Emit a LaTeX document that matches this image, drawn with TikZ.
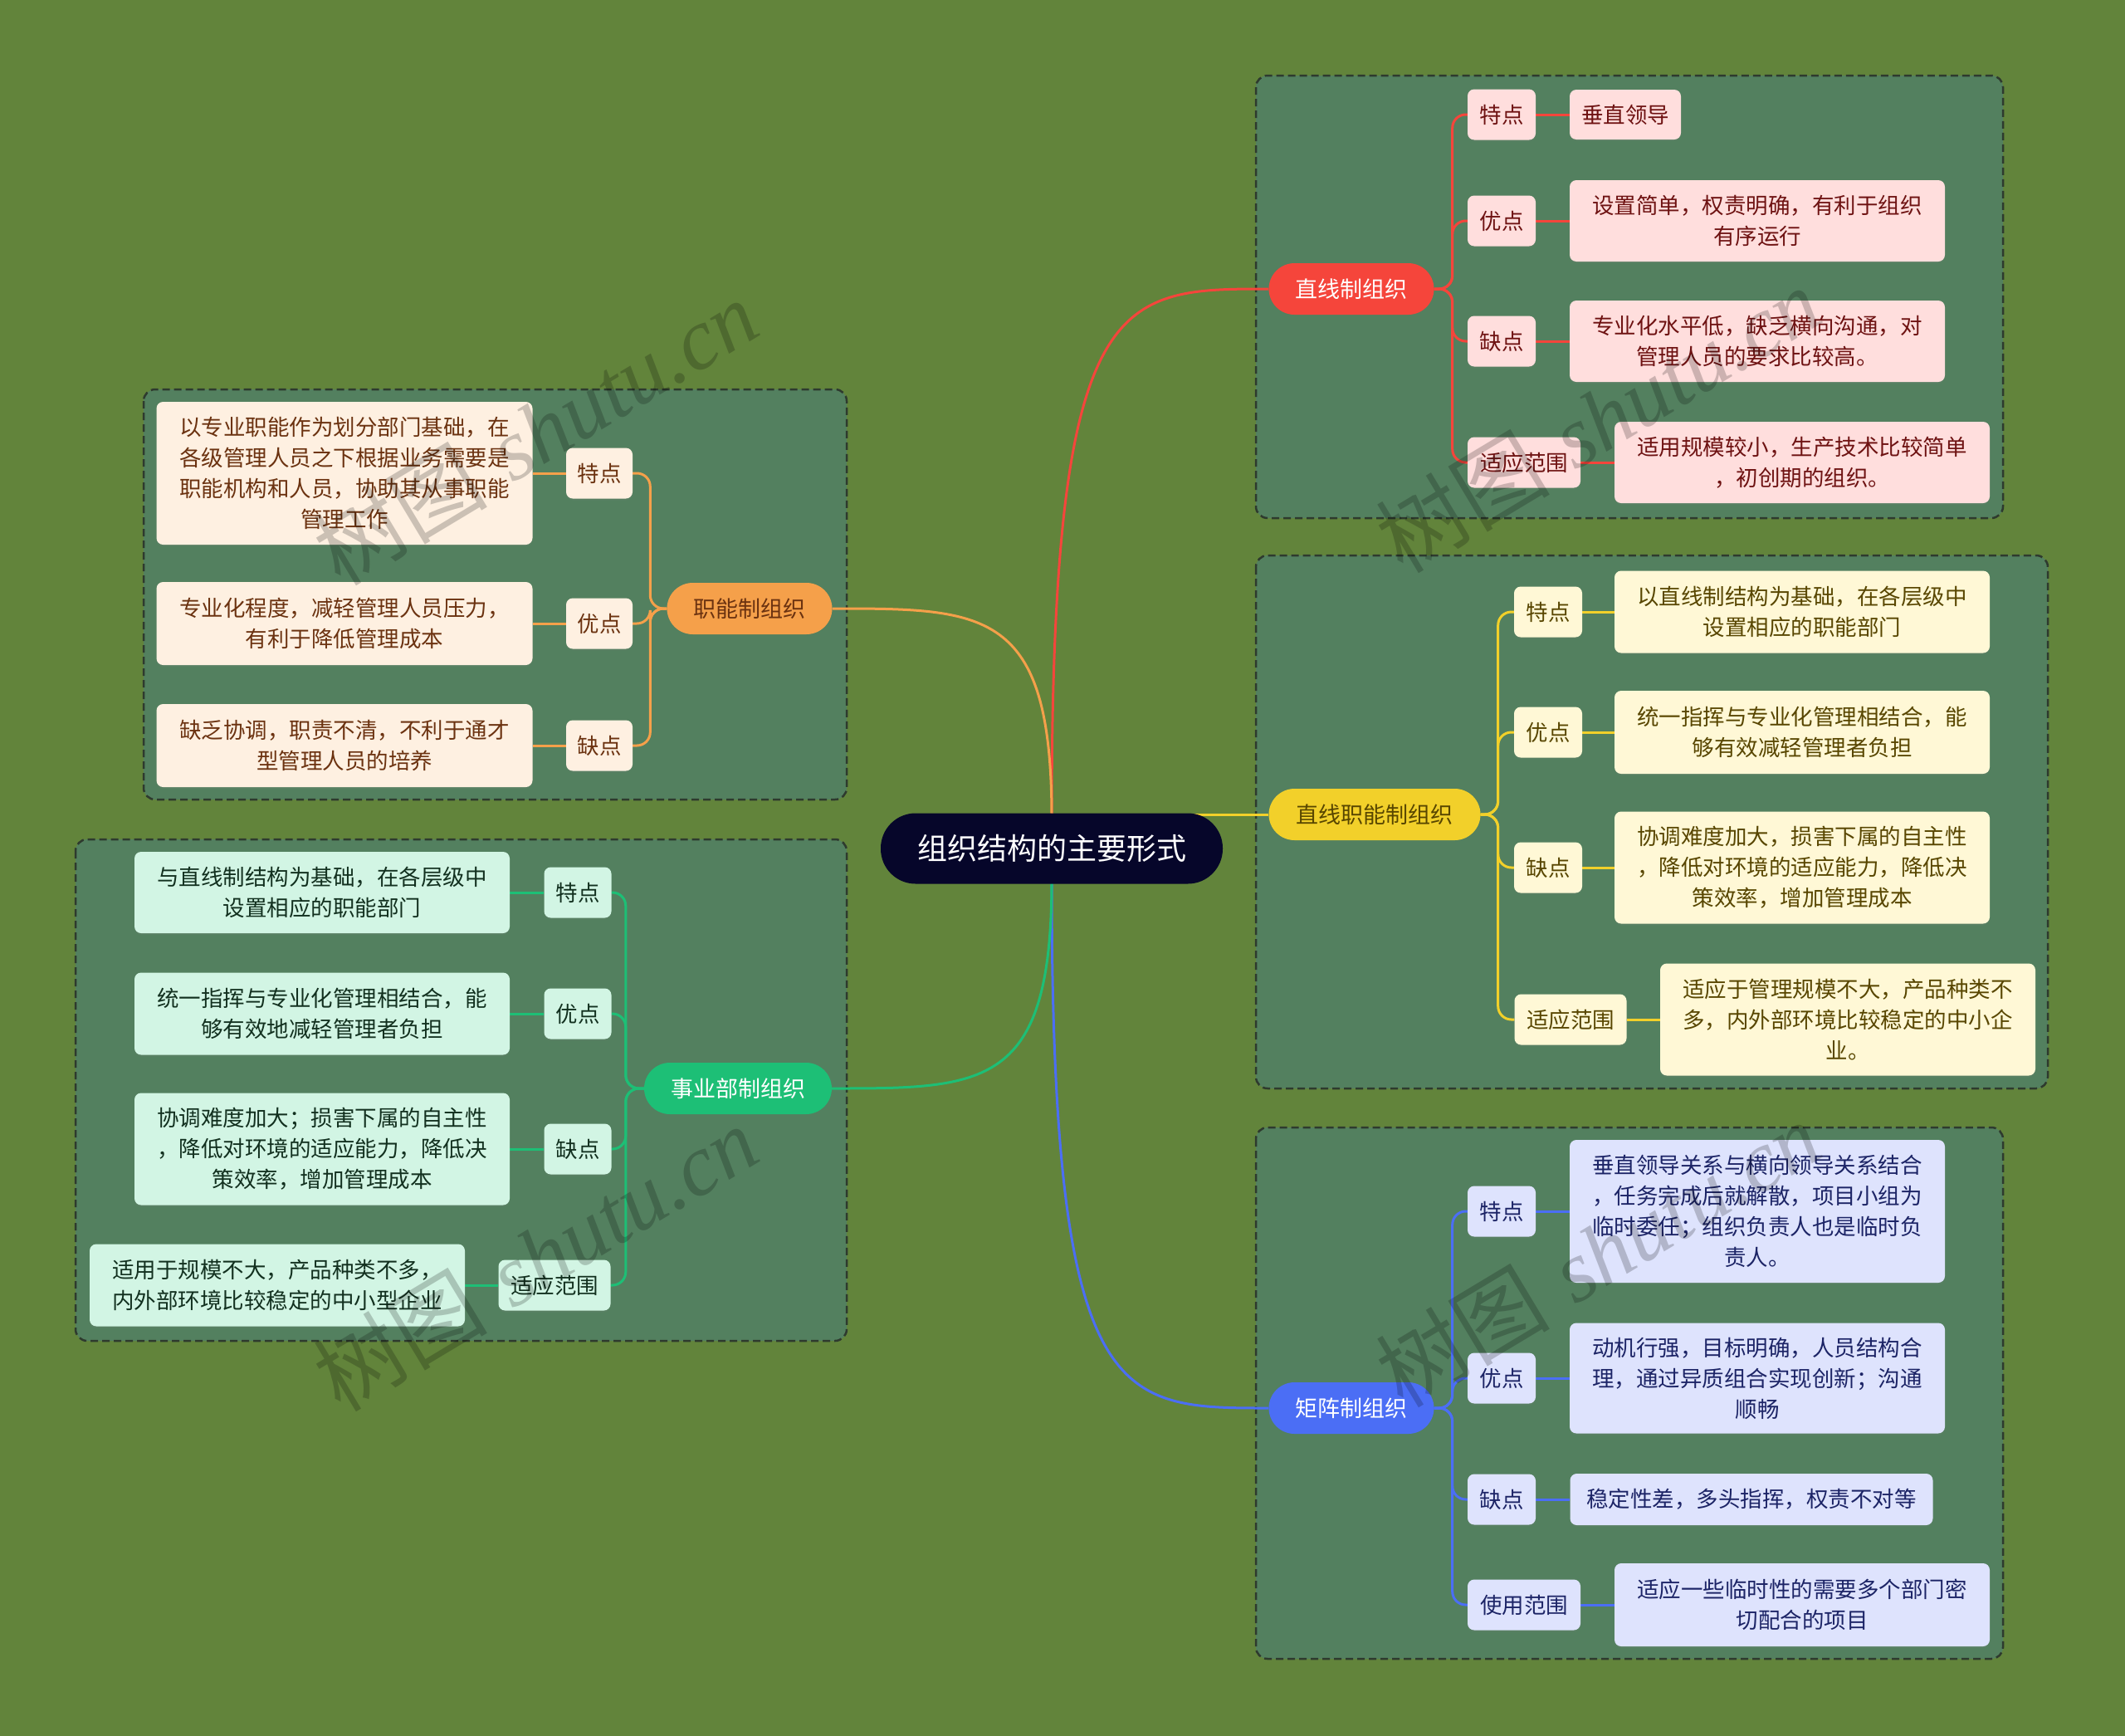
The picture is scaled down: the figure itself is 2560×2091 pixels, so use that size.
\documentclass[tikz,border=0pt]{standalone}
\usepackage{fontspec}
\newfontfamily\cjk{Noto Sans CJK SC}
\newfontfamily\wmser{Liberation Serif}
\usetikzlibrary{shadows}
\pgfdeclarelayer{back}
\pgfdeclarelayer{mid}
\pgfsetlayers{back,mid,main}
\definecolor{bgc}{HTML}{62843B}
\definecolor{grpc}{HTML}{53805F}
\definecolor{grpline}{HTML}{2E3A2E}
\definecolor{rootc}{HTML}{06062A}
\definecolor{cR}{HTML}{F5453B}
\definecolor{fR}{HTML}{FFDEDD}
\definecolor{tR}{HTML}{6E1212}
\definecolor{cY}{HTML}{F2D02A}
\definecolor{fY}{HTML}{FFF8D6}
\definecolor{tY}{HTML}{584600}
\definecolor{cB}{HTML}{4B6EF5}
\definecolor{fB}{HTML}{DEE3FD}
\definecolor{tB}{HTML}{1C2466}
\definecolor{cO}{HTML}{F5A04A}
\definecolor{fO}{HTML}{FEF0E1}
\definecolor{tO}{HTML}{6B3210}
\definecolor{cG}{HTML}{1DBF76}
\definecolor{fG}{HTML}{D2F5E4}
\definecolor{tG}{HTML}{12301F}
\begin{document}
\begin{tikzpicture}[x=1pt,y=-1pt,
  rootbox/.style={fill=rootc,text=white,rounded corners=42pt,minimum width=412pt,minimum height=85pt,inner sep=0pt,font=\cjk\fontsize{36}{40}\selectfont},
  mainbox/.style={rounded corners=31pt,minimum height=62pt,inner sep=0pt,font=\cjk\fontsize{27}{32}\selectfont},
  labbox/.style={rounded corners=8pt,minimum height=61pt,minimum width=82pt,inner sep=0pt,font=\cjk\fontsize{26.5}{37}\selectfont,drop shadow={opacity=0.15,shadow xshift=0pt,shadow yshift=-2pt}},
  leafbox/.style={rounded corners=8pt,minimum width=452pt,inner sep=0pt,align=center,font=\cjk\fontsize{26.5}{37}\selectfont,drop shadow={opacity=0.15,shadow xshift=0pt,shadow yshift=-2pt}},
  grpbox/.style={draw=grpline,fill=grpc,line width=2.5pt,dash pattern=on 9pt off 5pt,rounded corners=14pt},
  lnk/.style={line width=3pt},
  brl/.style={lnk,rounded corners=16pt},
  rr/.style={fill=fR,text=tR},
  yy/.style={fill=fY,text=tY},
  bb/.style={fill=fB,text=tB},
  oo/.style={fill=fO,text=tO},
  gg/.style={fill=fG,text=tG},
  wmark/.style={text=black,opacity=0.2,rotate=31,font=\fontsize{105}{110}\selectfont}
]
\begin{pgfonlayer}{back}
\fill[bgc] (0,0) rectangle (2560,2091);
\draw[grpbox] (1513,91) rectangle (2413,624);
\draw[grpbox] (1513,669) rectangle (2467,1311);
\draw[grpbox] (1513,1358) rectangle (2413,1998);
\draw[grpbox] (173,469) rectangle (1020,963);
\draw[grpbox] (91,1011) rectangle (1020,1615);
\end{pgfonlayer}

% root and main branches
\node[rootbox] (root) at (1267,1022) {组织结构的主要形式};
\node[mainbox,fill=cR,text=white,minimum width=199pt] (R) at (1628,348) {直线制组织};
\node[mainbox,fill=cY,text=tY,minimum width=255pt] (Y) at (1656,981) {直线职能制组织};
\node[mainbox,fill=cB,text=white,minimum width=199pt] (B) at (1628,1696) {矩阵制组织};
\node[mainbox,fill=cO,text=tO,minimum width=199pt] (O) at (903,733) {职能制组织};
\node[mainbox,fill=cG,text=white,minimum width=226pt] (G) at (889,1311) {事业部制组织};
\coordinate (rtop) at (1267,985);
\coordinate (rbot) at (1267,1060);

% red branch
\node[labbox,rr] (R1) at (1809,138) {特点};
\node[leafbox,rr,minimum width=134pt,minimum height=60pt] (R1x) at (1958,138) {垂直领导};
\node[labbox,rr] (R2) at (1809,266) {优点};
\node[leafbox,rr,minimum height=98pt] (R2x) at (2117,266) {设置简单，权责明确，有利于组织\\有序运行};
\node[labbox,rr] (R3) at (1809,411) {缺点};
\node[leafbox,rr,minimum height=98pt] (R3x) at (2117,411) {专业化水平低，缺乏横向沟通，对\\管理人员的要求比较高。};
\node[labbox,rr,minimum width=136pt] (R4) at (1836,557) {适应范围};
\node[leafbox,rr,minimum height=98pt] (R4x) at (2171,557) {适用规模较小，生产技术比较简单\\，初创期的组织。};

% yellow branch
\node[labbox,yy] (Y1) at (1865,737) {特点};
\node[leafbox,yy,minimum height=99pt] (Y1x) at (2171,737) {以直线制结构为基础，在各层级中\\设置相应的职能部门};
\node[labbox,yy] (Y2) at (1865,882) {优点};
\node[leafbox,yy,minimum height=100pt] (Y2x) at (2171,882) {统一指挥与专业化管理相结合，能\\够有效减轻管理者负担};
\node[labbox,yy] (Y3) at (1865,1045) {缺点};
\node[leafbox,yy,minimum height=135pt] (Y3x) at (2171,1045) {协调难度加大，损害下属的自主性\\，降低对环境的适应能力，降低决\\策效率，增加管理成本};
\node[labbox,yy,minimum width=135pt] (Y4) at (1892,1228) {适应范围};
\node[leafbox,yy,minimum height=135pt] (Y4x) at (2226,1228) {适应于管理规模不大，产品种类不\\多，内外部环境比较稳定的中小企\\业。};

% blue branch
\node[labbox,bb] (B1) at (1809,1459) {特点};
\node[leafbox,bb,minimum height=172pt] (B1x) at (2117,1459) {垂直领导关系与横向领导关系结合\\，任务完成后就解散，项目小组为\\临时委任；组织负责人也是临时负\\责人。};
\node[labbox,bb] (B2) at (1809,1660) {优点};
\node[leafbox,bb,minimum height=133pt] (B2x) at (2117,1660) {动机行强，目标明确，人员结构合\\理，通过异质组合实现创新；沟通\\顺畅};
\node[labbox,bb] (B3) at (1809,1806) {缺点};
\node[leafbox,bb,minimum width=437pt,minimum height=62pt] (B3x) at (2110,1806) {稳定性差，多头指挥，权责不对等};
\node[labbox,bb,minimum width=136pt] (B4) at (1836,1933) {使用范围};
\node[leafbox,bb,minimum height=100pt] (B4x) at (2171,1933) {适应一些临时性的需要多个部门密\\切配合的项目};

% orange branch
\node[labbox,oo,minimum width=80pt] (O1) at (722,570) {特点};
\node[leafbox,oo,minimum width=453pt,minimum height=172pt] (O1x) at (415,570) {以专业职能作为划分部门基础，在\\各级管理人员之下根据业务需要是\\职能机构和人员，协助其从事职能\\管理工作};
\node[labbox,oo,minimum width=80pt] (O2) at (722,751) {优点};
\node[leafbox,oo,minimum width=453pt,minimum height=100pt] (O2x) at (415,751) {专业化程度，减轻管理人员压力，\\有利于降低管理成本};
\node[labbox,oo,minimum width=80pt] (O3) at (722,898) {缺点};
\node[leafbox,oo,minimum width=453pt,minimum height=100pt] (O3x) at (415,898) {缺乏协调，职责不清，不利于通才\\型管理人员的培养};

% green branch
\node[labbox,gg,minimum width=81pt] (G1) at (696,1075) {特点};
\node[leafbox,gg,minimum height=98pt] (G1x) at (388,1075) {与直线制结构为基础，在各层级中\\设置相应的职能部门};
\node[labbox,gg,minimum width=81pt] (G2) at (696,1221) {优点};
\node[leafbox,gg,minimum height=99pt] (G2x) at (388,1221) {统一指挥与专业化管理相结合，能\\够有效地减轻管理者负担};
\node[labbox,gg,minimum width=81pt] (G3) at (696,1384) {缺点};
\node[leafbox,gg,minimum height=135pt] (G3x) at (388,1384) {协调难度加大；损害下属的自主性\\，降低对环境的适应能力，降低决\\策效率，增加管理成本};
\node[labbox,gg,minimum width=135pt] (G4) at (668,1548) {适应范围};
\node[leafbox,gg,minimum height=99pt] (G4x) at (334,1548) {适用于规模不大，产品种类不多，\\内外部环境比较稳定的中小型企业};

\begin{pgfonlayer}{mid}
% root to main
\draw[lnk,cR] (rtop) .. controls (1267,348) and (1345,348) .. (R.west);
\draw[lnk,cO] (rtop) .. controls (1267,733) and (1187,733) .. (O.east);
\draw[lnk,cY] (1267,981) -- (Y.west);
\draw[lnk,cB] (rbot) .. controls (1267,1696) and (1345,1696) .. (B.west);
\draw[lnk,cG] (rbot) .. controls (1267,1311) and (1187,1311) .. (G.east);
% red
\foreach \n in {R1,R2,R3,R4} {\draw[brl,cR] (R.east) -- ++(22,0) |- (\n.west);}
\foreach \n in {R1,R2,R3,R4} {\draw[lnk,cR] (\n.east) -- (\n.east -| \n x.west);}
% yellow
\foreach \n in {Y1,Y2,Y3,Y4} {\draw[brl,cY] (Y.east) -- ++(21,0) |- (\n.west);}
\foreach \n in {Y1,Y2,Y3,Y4} {\draw[lnk,cY] (\n.east) -- (\n.east -| \n x.west);}
% blue
\foreach \n in {B1,B2,B3,B4} {\draw[brl,cB] (B.east) -- ++(22,0) |- (\n.west);}
\foreach \n in {B1,B2,B3,B4} {\draw[lnk,cB] (\n.east) -- (\n.east -| \n x.west);}
% orange
\foreach \n in {O1,O2,O3} {\draw[brl,cO] (O.west) -- ++(-20,0) |- (\n.east);}
\foreach \n in {O1,O2,O3} {\draw[lnk,cO] (\n.west) -- (\n.west -| \n x.east);}
% green
\foreach \n in {G1,G2,G3,G4} {\draw[brl,cG] (G.west) -- ++(-22,0) |- (\n.east);}
\foreach \n in {G1,G2,G3,G4} {\draw[lnk,cG] (\n.west) -- (\n.west -| \n x.east);}
\end{pgfonlayer}

% watermarks
\node[wmark] (wm1) at (645,520) {{\cjk 树图} {\wmser\itshape shutu.cn}};
\node[wmark] (wm2) at (645,1515) {{\cjk 树图} {\wmser\itshape shutu.cn}};
\node[wmark] (wm3) at (1925,505) {{\cjk 树图} {\wmser\itshape shutu.cn}};
\node[wmark] (wm4) at (1925,1510) {{\cjk 树图} {\wmser\itshape shutu.cn}};
\end{tikzpicture}
\end{document}
